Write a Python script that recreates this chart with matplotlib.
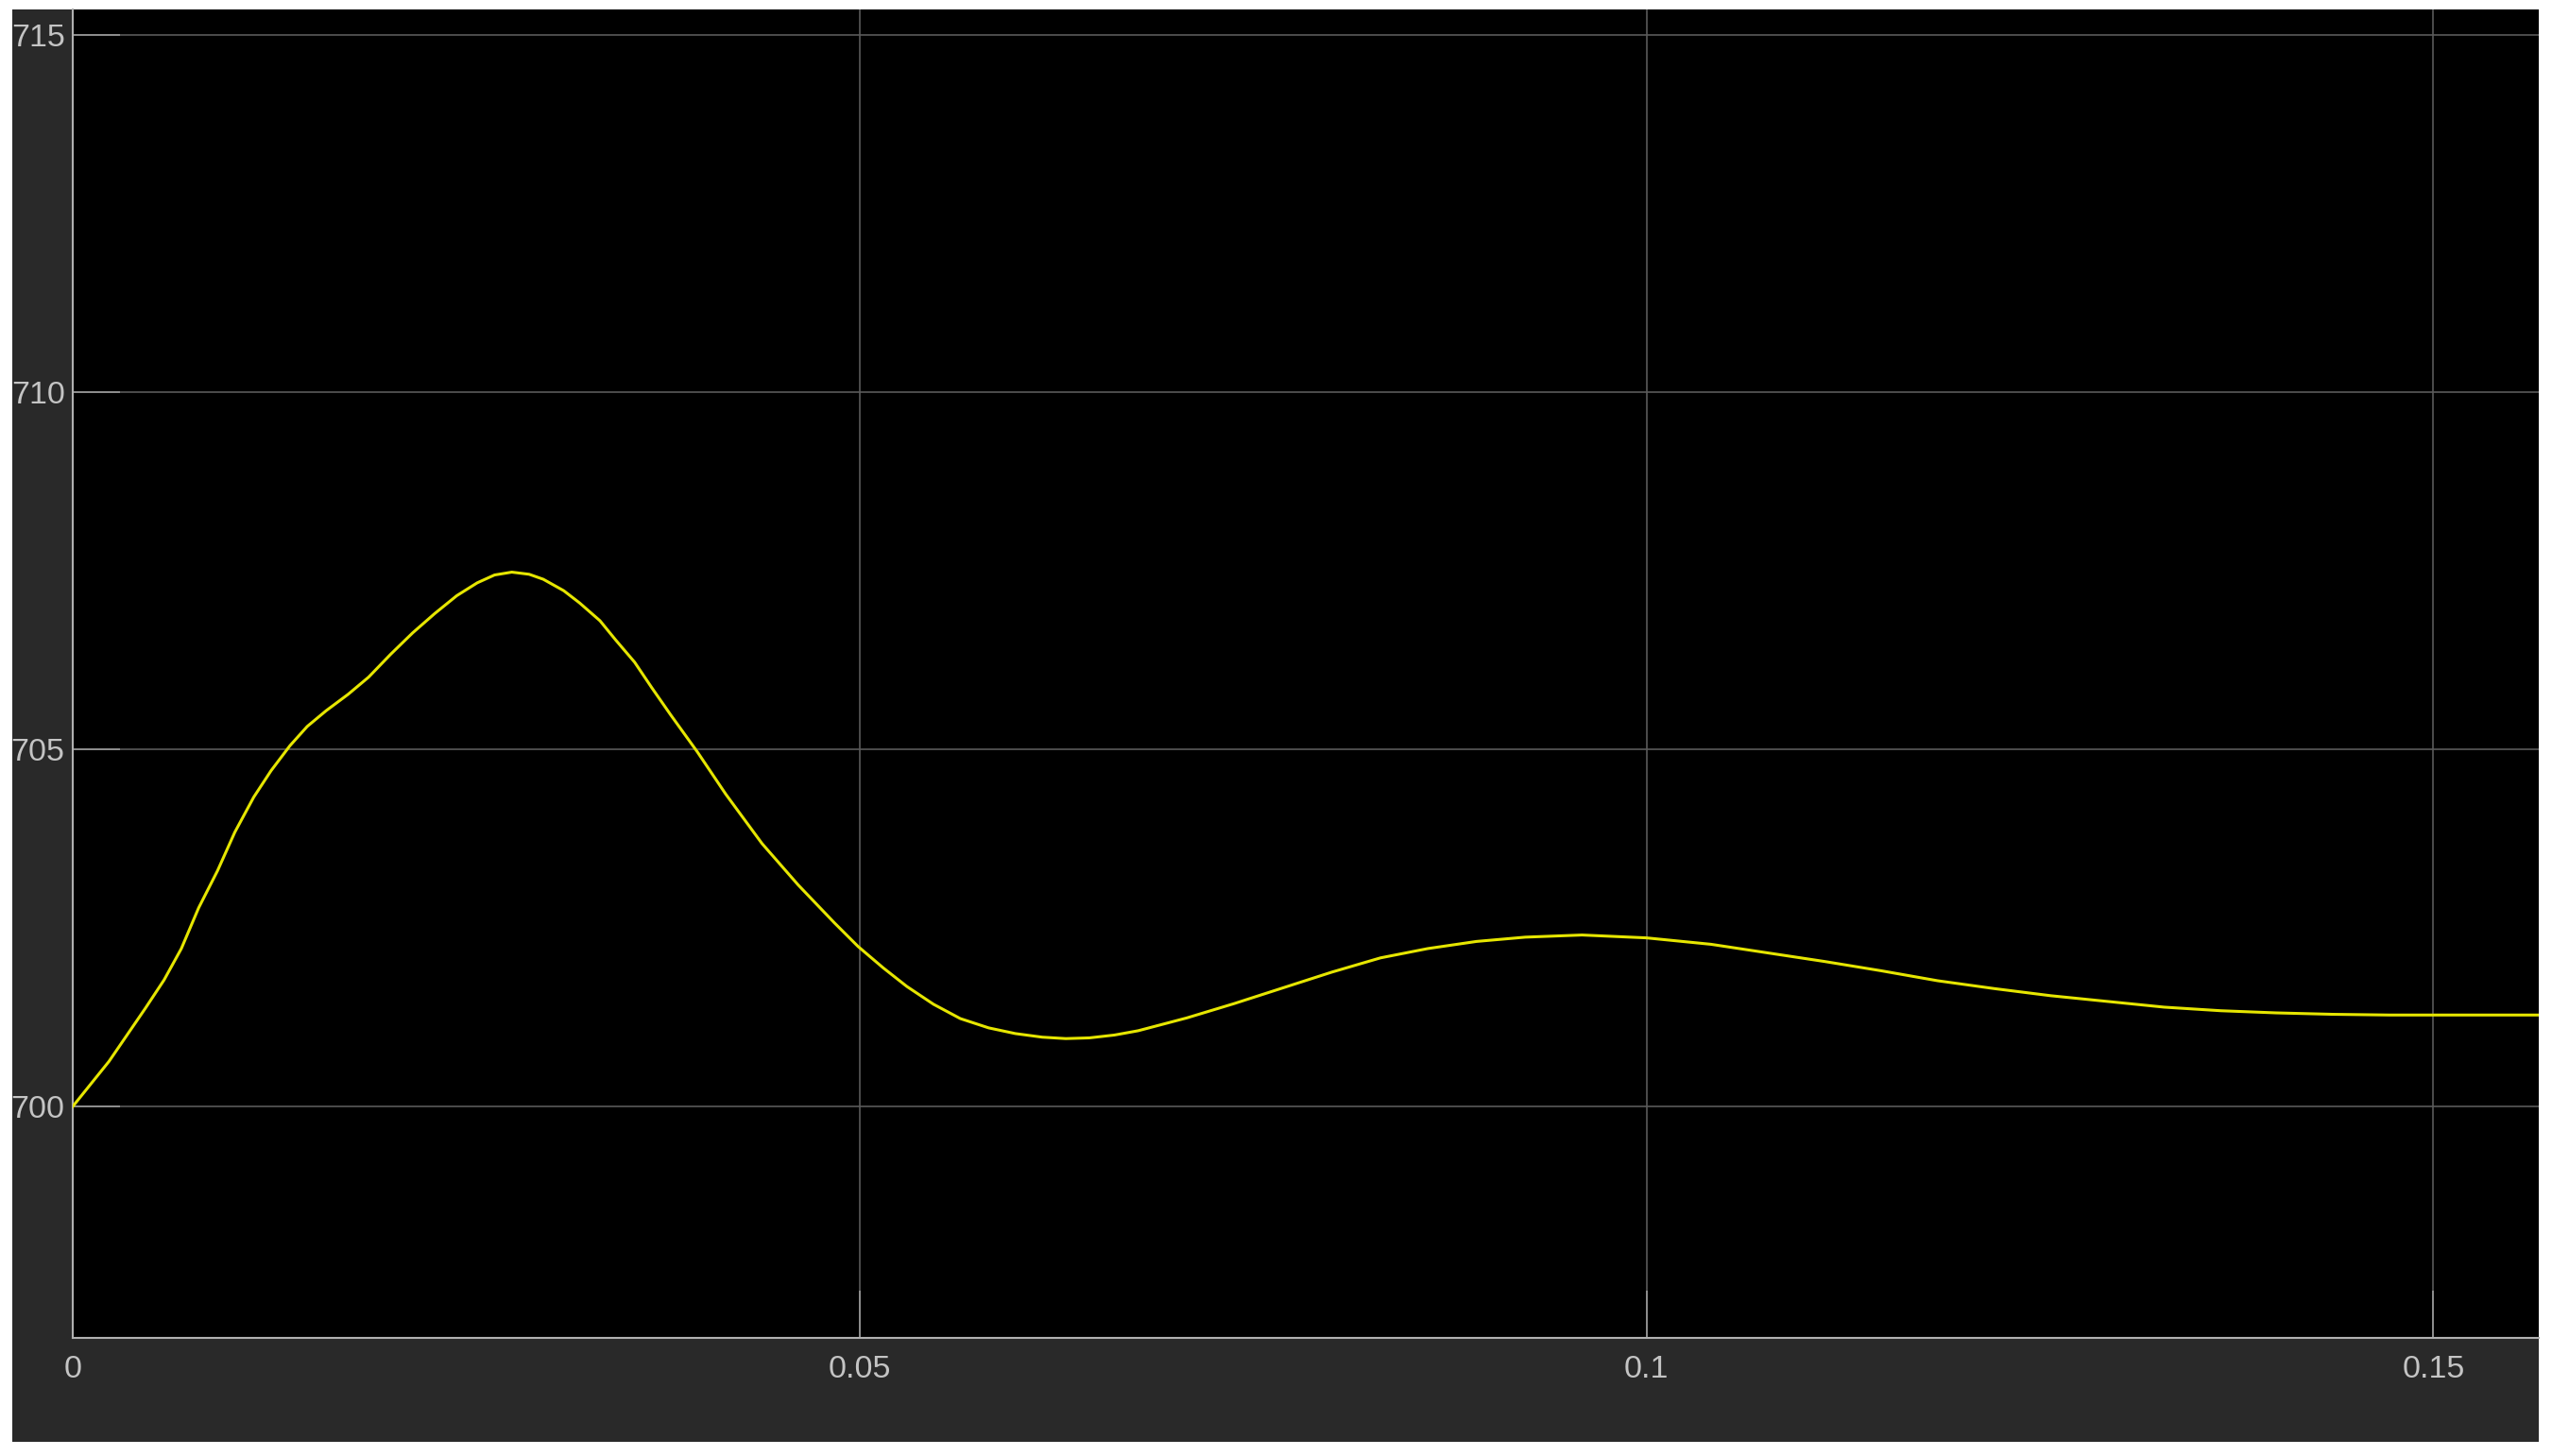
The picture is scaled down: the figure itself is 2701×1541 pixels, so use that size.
import matplotlib.pyplot as plt
from matplotlib.patches import Rectangle

# 読み取った波形データ
t = [0.0, 0.0023, 0.0046, 0.0058, 0.0069, 0.0080, 0.0092, 0.0103, 0.0115, 0.0126,
     0.0138, 0.0149, 0.0161, 0.0175, 0.0188, 0.0202, 0.0216, 0.0230, 0.0244, 0.0257,
     0.0268, 0.0279, 0.0290, 0.0299, 0.0312, 0.0322, 0.0335, 0.0345,
     0.0357, 0.0368, 0.0380, 0.0397, 0.0415, 0.0438, 0.0461, 0.0484, 0.0499, 0.0515,
     0.0530, 0.0547, 0.0564, 0.0582, 0.0599, 0.0616, 0.0631, 0.0646, 0.0662, 0.0677,
     0.0708, 0.0738, 0.0769, 0.0800, 0.0831, 0.0861, 0.0892, 0.0923, 0.0959, 0.1000,
     0.1041, 0.1077, 0.1113, 0.1149, 0.1185, 0.1221, 0.1257, 0.1293, 0.1329, 0.1365,
     0.1400, 0.1436, 0.1472, 0.1508, 0.1567]
v = [700.0, 700.63, 701.37, 701.77, 702.21, 702.78, 703.30, 703.84, 704.33, 704.70,
     705.05, 705.32, 705.54, 705.77, 706.01, 706.33, 706.63, 706.90, 707.15, 707.33,
     707.44, 707.48, 707.45, 707.38, 707.22, 707.05, 706.80, 706.53,
     706.22, 705.86, 705.48, 704.96, 704.37, 703.68, 703.10, 702.57, 702.24, 701.94,
     701.68, 701.43, 701.23, 701.10, 701.02, 700.97, 700.95, 700.96, 701.00, 701.06,
     701.24, 701.44, 701.66, 701.88, 702.08, 702.21, 702.31, 702.37, 702.40, 702.36,
     702.27, 702.15, 702.03, 701.90, 701.76, 701.65, 701.55, 701.47, 701.39, 701.34,
     701.31, 701.29, 701.28, 701.28, 701.28]

xticks = [0, 0.05, 0.1, 0.15]
xlabels = ["0", "0.05", "0.1", "0.15"]
yticks = [700, 705, 710, 715]

W, H = 2701, 1541
fig = plt.figure(figsize=(W / 100, H / 100), dpi=100, facecolor="white")

# 背景（暗い灰色）
bg = Rectangle((13 / W, (H - 1526) / H), (2687 - 13) / W, (1526 - 10) / H,
               transform=fig.transFigure, facecolor="#292929",
               edgecolor="none", zorder=-10)
fig.add_artist(bg)

ax = fig.add_axes([77 / W, (H - 1416) / H, (2687 - 77) / W, (1416 - 10) / H])
ax.set_zorder(1)
ax.set_facecolor("black")
ax.plot(t, v, color="#e6e600", linewidth=2.2, zorder=3)

ax.set_xlim(0, 0.1567)
ax.set_ylim(696.76, 715.357)
ax.set_xticks(xticks)
ax.set_xticklabels(xlabels)
ax.set_yticks(yticks)
ax.grid(True, color="#5a5a5a", linewidth=1.2)

for s in ["top", "right"]:
    ax.spines[s].set_visible(False)
for s in ["left", "bottom"]:
    ax.spines[s].set_color("#b0b0b0")
    ax.spines[s].set_linewidth(1.5)

ax.tick_params(axis="both", direction="in", length=36, width=1.2, color="#9a9a9a",
               labelcolor="#c4c4c4", labelsize=24.5)
ax.tick_params(axis="x", pad=13)
ax.tick_params(axis="y", pad=6)
for lab in ax.get_xticklabels() + ax.get_yticklabels():
    lab.set_family(["Liberation Sans", "DejaVu Sans"])

fig.savefig("out.png", dpi=100, facecolor="white")
